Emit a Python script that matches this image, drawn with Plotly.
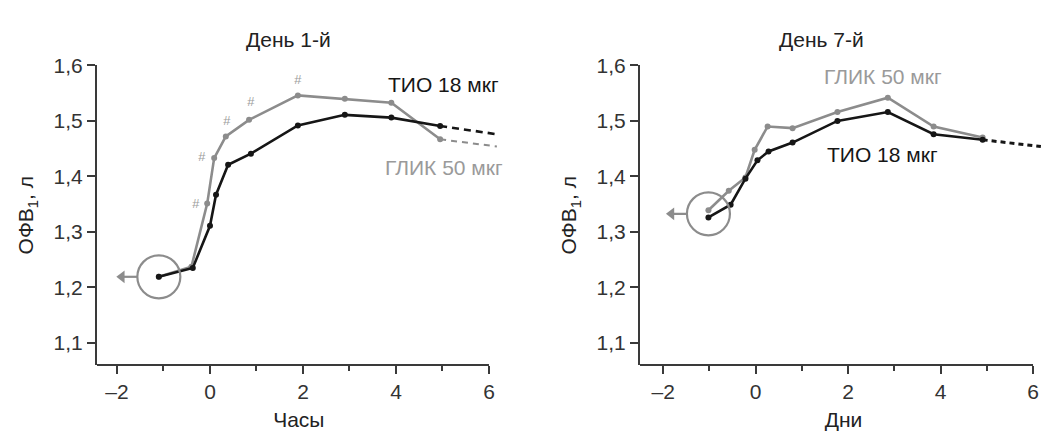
import plotly.graph_objects as go

# FEV1 (litres) after inhalation, day 1 (hours) and day 7
day1_hours_tio = [-1.1, -0.37, 0.0, 0.13, 0.39, 0.88, 1.89, 2.9, 3.9, 4.95]
day1_fev_tio = [1.219, 1.235, 1.311, 1.367, 1.421, 1.441, 1.492, 1.511, 1.506, 1.491]
day1_hours_glik = [-1.1, -0.4, -0.06, 0.09, 0.34, 0.84, 1.89, 2.9, 3.9, 4.95]
day1_fev_glik = [1.219, 1.237, 1.351, 1.433, 1.472, 1.502, 1.546, 1.54, 1.533, 1.467]
day1_tail_x = [4.95, 6.17]
day1_tail_tio = [1.491, 1.476]
day1_tail_glik = [1.467, 1.454]

day7_x_tio = [-1.02, -0.54, -0.22, 0.04, 0.28, 0.8, 1.77, 2.86, 3.85, 4.91]
day7_fev_tio = [1.326, 1.349, 1.396, 1.429, 1.445, 1.461, 1.5, 1.516, 1.476, 1.466]
day7_x_glik = [-1.02, -0.58, -0.22, -0.02, 0.26, 0.8, 1.77, 2.86, 3.85, 4.91]
day7_fev_glik = [1.339, 1.374, 1.398, 1.448, 1.49, 1.487, 1.516, 1.542, 1.49, 1.47]
day7_tail_x = [4.91, 6.17]
day7_tail_tio = [1.466, 1.454]

# points of the day-1 GLIK curve flagged with "#", and where the mark sits
hash_idx = [2, 3, 4, 5, 6]
hash_shift = [(-11, 0), (-12, 2), (1, 16), (2, 18), (0, 16)]

panel_titles = ["День 1-й", "День 7-й"]
x_titles = ["Часы", "Дни"]
y_title = "ОФВ<sub>1</sub>, л"
label_tio = "ТИО 18 мкг"
label_glik = "ГЛИК 50 мкг"

W, H = 1047, 435
BLACK = "#161616"
GREY = "#8c8c8c"
AXIS = "#3a3a3a"
FONT = "Liberation Sans, Arial, Helvetica, sans-serif"

# pixel layout of the two panels
ydom = [72 / H, 380 / H]
x1dom = [97 / W, 500.6 / W]
x2dom = [640 / W, 1046.9 / W]
x1range = [-2.43, 6.25]
x2range = [-2.5, 6.3]
yrange = [1.06, 1.6]

fig = go.Figure()


def curve(x, y, color, xa, ya, dash="solid", markers=True, width=2.6):
    fig.add_trace(go.Scatter(
        x=x, y=y, xaxis=xa, yaxis=ya,
        mode="lines+markers" if markers else "lines",
        line=dict(color=color, width=width, dash=dash),
        marker=dict(color=color, size=6),
        showlegend=False, hoverinfo="skip"))


# day 1
curve(day1_tail_x, day1_tail_glik, GREY, "x", "y", dash="6px,5px", markers=False, width=2)
curve(day1_tail_x, day1_tail_tio, BLACK, "x", "y", dash="7px,5px", markers=False, width=2.6)
curve(day1_hours_glik, day1_fev_glik, GREY, "x", "y")
curve(day1_hours_tio, day1_fev_tio, BLACK, "x", "y")

# day 7
curve(day7_tail_x, day7_tail_tio, BLACK, "x2", "y2", dash="5px,4px", markers=False, width=3)
curve(day7_x_glik, day7_fev_glik, GREY, "x2", "y2")
curve(day7_x_tio, day7_fev_tio, BLACK, "x2", "y2")

baselines = [("x", "y", x1dom, x1range, day1_hours_tio[0], day1_fev_tio[0]),
             ("x2", "y2", x2dom, x2range, day7_x_tio[0], (day7_fev_tio[0] + day7_fev_glik[0]) / 2)]

# baseline point ringed, with a short arrow pointing left to the pre-dose value
for xa, ya, dom, rng, bx, by in baselines:
    px_per_unit = (dom[1] - dom[0]) * W / (rng[1] - rng[0])
    fig.add_trace(go.Scatter(
        x=[bx], y=[by], xaxis=xa, yaxis=ya, mode="markers",
        marker=dict(symbol="circle-open", size=43, color=GREY, line=dict(width=2.2, color=GREY)),
        showlegend=False, hoverinfo="skip", cliponaxis=False))
    x_edge = bx - 21 / px_per_unit
    x_tip = bx - 41 / px_per_unit
    fig.add_trace(go.Scatter(
        x=[x_edge, x_tip + 4 / px_per_unit], y=[by, by], xaxis=xa, yaxis=ya, mode="lines",
        line=dict(color=GREY, width=2.2), showlegend=False, hoverinfo="skip"))
    fig.add_trace(go.Scatter(
        x=[x_tip + 4 / px_per_unit], y=[by], xaxis=xa, yaxis=ya, mode="markers",
        marker=dict(symbol="triangle-left", size=11, color=GREY),
        showlegend=False, hoverinfo="skip", cliponaxis=False))

annotations = []
shapes = []

for i, (dx, dy) in zip(hash_idx, hash_shift):
    annotations.append(dict(
        x=day1_hours_glik[i], y=day1_fev_glik[i], xref="x", yref="y",
        text="<i>#</i>", showarrow=False, xshift=dx, yshift=dy,
        font=dict(family=FONT, size=13, color="#9c9c9c")))

# series labels
annotations += [
    dict(x=5.03, y=1.565, xref="x", yref="y", text=label_tio, showarrow=False,
         font=dict(family=FONT, size=21, color=BLACK)),
    dict(x=5.03, y=1.416, xref="x", yref="y", text=label_glik, showarrow=False,
         font=dict(family=FONT, size=21, color="#9a9a9a")),
    dict(x=2.75, y=1.58, xref="x2", yref="y2", text=label_glik, showarrow=False,
         font=dict(family=FONT, size=21, color="#9a9a9a")),
    dict(x=2.75, y=1.44, xref="x2", yref="y2", text=label_tio, showarrow=False,
         font=dict(family=FONT, size=21, color=BLACK)),
]

# panel titles
for cx, t in zip([288 / W, 821 / W], panel_titles):
    annotations.append(dict(x=cx, y=1 - 28 / H, xref="paper", yref="paper", text=t,
                            xanchor="center", yanchor="middle", showarrow=False,
                            font=dict(family=FONT, size=21, color="#222")))

# x axis baselines stop at 6 while the trend lines run past it
for dom, rng in [(x1dom, x1range), (x2dom, x2range)]:
    span = dom[1] - dom[0]
    x_end = dom[0] + (6 - rng[0]) / (rng[1] - rng[0]) * span
    shapes.append(dict(type="line", xref="paper", yref="paper",
                       x0=dom[0], x1=x_end, y0=ydom[0], y1=ydom[0],
                       line=dict(color=AXIS, width=2.2)))

xaxis_common = dict(
    showgrid=False, zeroline=False, showline=False,
    ticks="outside", ticklen=8, tickwidth=2, tickcolor=AXIS,
    tickvals=[-2, 0, 2, 4, 6], ticktext=["–2", "0", "2", "4", "6"],
    minor=dict(tickvals=[-1, 1, 3, 5], ticks="outside", ticklen=5, tickwidth=2, tickcolor=AXIS),
    tickfont=dict(family=FONT, size=21, color="#333"),
    title=dict(font=dict(family=FONT, size=21, color="#222"), standoff=10))
yaxis_common = dict(
    range=yrange, domain=ydom, showgrid=False, zeroline=False,
    showline=True, linecolor=AXIS, linewidth=2.2,
    ticks="outside", ticklen=8, tickwidth=2, tickcolor=AXIS,
    tickvals=[1.1, 1.2, 1.3, 1.4, 1.5, 1.6],
    ticktext=["1,1", "1,2", "1,3", "1,4", "1,5", "1,6"],
    tickfont=dict(family=FONT, size=21, color="#333"),
    title=dict(text=y_title, font=dict(family=FONT, size=21, color="#222"), standoff=14))

fig.update_layout(
    width=W, height=H, margin=dict(l=0, r=0, t=0, b=0),
    paper_bgcolor="white", plot_bgcolor="white",
    xaxis=dict(xaxis_common, domain=x1dom, range=x1range, anchor="y",
               title=dict(xaxis_common["title"], text=x_titles[0])),
    yaxis=dict(yaxis_common, anchor="x"),
    xaxis2=dict(xaxis_common, domain=x2dom, range=x2range, anchor="y2",
                title=dict(xaxis_common["title"], text=x_titles[1])),
    yaxis2=dict(yaxis_common, anchor="x2"),
    annotations=annotations, shapes=shapes,
)

fig.write_html("out.html")
